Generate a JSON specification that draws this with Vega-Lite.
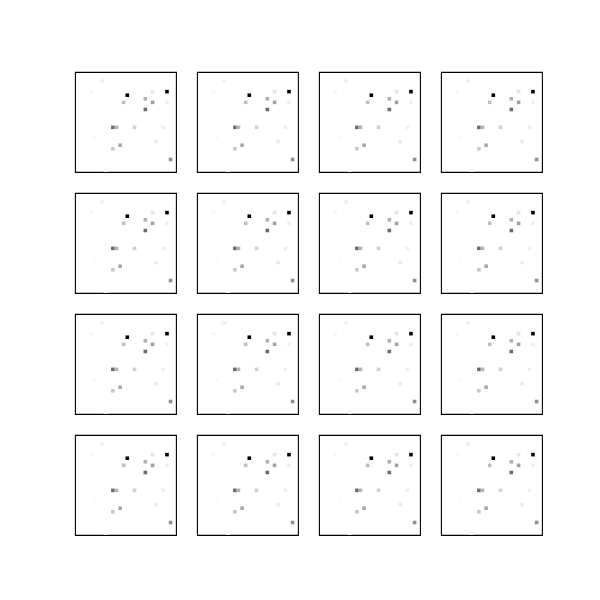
{
  "$schema": "https://vega.github.io/schema/vega-lite/v6.json",
  "background": "white",
  "padding": {"left": 74, "top": 71, "right": 0, "bottom": 0},
  "config": {"view": {"stroke": "#000000", "strokeWidth": 1.1}, "concat": {"spacing": 19}},
  "datasets": {
    "cells": [
      {"col": 7, "row": 2, "v": 0.06},
      {"col": 4, "row": 5, "v": 0.03},
      {"col": 14, "row": 6, "v": 1.0},
      {"col": 21, "row": 5, "v": 0.1},
      {"col": 25, "row": 5, "v": 1.0},
      {"col": 19, "row": 7, "v": 0.31},
      {"col": 13, "row": 8, "v": 0.25},
      {"col": 21, "row": 8, "v": 0.37},
      {"col": 25, "row": 8, "v": 0.06},
      {"col": 19, "row": 10, "v": 0.58},
      {"col": 10, "row": 15, "v": 0.58},
      {"col": 11, "row": 15, "v": 0.29},
      {"col": 16, "row": 15, "v": 0.18},
      {"col": 24, "row": 15, "v": 0.06},
      {"col": 5, "row": 18, "v": 0.02},
      {"col": 22, "row": 19, "v": 0.08},
      {"col": 12, "row": 20, "v": 0.34},
      {"col": 10, "row": 21, "v": 0.22},
      {"col": 26, "row": 24, "v": 0.44},
      {"col": 8, "row": 27, "v": 0.03}
    ]
  },
  "vconcat": [
    {"spacing": 19, "hconcat": [
      {"data": {"name": "cells"}, "width": 101, "height": 100, "mark": {"type": "rect", "strokeWidth": 0},
       "encoding": {
         "x": {"field": "col", "type": "ordinal", "scale": {"domain": [0,1,2,3,4,5,6,7,8,9,10,11,12,13,14,15,16,17,18,19,20,21,22,23,24,25,26,27], "paddingInner": 0, "paddingOuter": 0}, "axis": null},
         "y": {"field": "row", "type": "ordinal", "scale": {"domain": [0,1,2,3,4,5,6,7,8,9,10,11,12,13,14,15,16,17,18,19,20,21,22,23,24,25,26,27], "paddingInner": 0, "paddingOuter": 0}, "axis": null},
         "color": {"field": "v", "type": "quantitative", "scale": {"domain": [0, 1], "range": ["#ffffff", "#000000"], "interpolate": "rgb"}, "legend": null}
       }},
      {"data": {"name": "cells"}, "width": 101, "height": 100, "mark": {"type": "rect", "strokeWidth": 0},
       "encoding": {
         "x": {"field": "col", "type": "ordinal", "scale": {"domain": [0,1,2,3,4,5,6,7,8,9,10,11,12,13,14,15,16,17,18,19,20,21,22,23,24,25,26,27], "paddingInner": 0, "paddingOuter": 0}, "axis": null},
         "y": {"field": "row", "type": "ordinal", "scale": {"domain": [0,1,2,3,4,5,6,7,8,9,10,11,12,13,14,15,16,17,18,19,20,21,22,23,24,25,26,27], "paddingInner": 0, "paddingOuter": 0}, "axis": null},
         "color": {"field": "v", "type": "quantitative", "scale": {"domain": [0, 1], "range": ["#ffffff", "#000000"], "interpolate": "rgb"}, "legend": null}
       }},
      {"data": {"name": "cells"}, "width": 101, "height": 100, "mark": {"type": "rect", "strokeWidth": 0},
       "encoding": {
         "x": {"field": "col", "type": "ordinal", "scale": {"domain": [0,1,2,3,4,5,6,7,8,9,10,11,12,13,14,15,16,17,18,19,20,21,22,23,24,25,26,27], "paddingInner": 0, "paddingOuter": 0}, "axis": null},
         "y": {"field": "row", "type": "ordinal", "scale": {"domain": [0,1,2,3,4,5,6,7,8,9,10,11,12,13,14,15,16,17,18,19,20,21,22,23,24,25,26,27], "paddingInner": 0, "paddingOuter": 0}, "axis": null},
         "color": {"field": "v", "type": "quantitative", "scale": {"domain": [0, 1], "range": ["#ffffff", "#000000"], "interpolate": "rgb"}, "legend": null}
       }},
      {"data": {"name": "cells"}, "width": 101, "height": 100, "mark": {"type": "rect", "strokeWidth": 0},
       "encoding": {
         "x": {"field": "col", "type": "ordinal", "scale": {"domain": [0,1,2,3,4,5,6,7,8,9,10,11,12,13,14,15,16,17,18,19,20,21,22,23,24,25,26,27], "paddingInner": 0, "paddingOuter": 0}, "axis": null},
         "y": {"field": "row", "type": "ordinal", "scale": {"domain": [0,1,2,3,4,5,6,7,8,9,10,11,12,13,14,15,16,17,18,19,20,21,22,23,24,25,26,27], "paddingInner": 0, "paddingOuter": 0}, "axis": null},
         "color": {"field": "v", "type": "quantitative", "scale": {"domain": [0, 1], "range": ["#ffffff", "#000000"], "interpolate": "rgb"}, "legend": null}
       }}
    ]},
    {"spacing": 19, "hconcat": [
      {"data": {"name": "cells"}, "width": 101, "height": 100, "mark": {"type": "rect", "strokeWidth": 0},
       "encoding": {
         "x": {"field": "col", "type": "ordinal", "scale": {"domain": [0,1,2,3,4,5,6,7,8,9,10,11,12,13,14,15,16,17,18,19,20,21,22,23,24,25,26,27], "paddingInner": 0, "paddingOuter": 0}, "axis": null},
         "y": {"field": "row", "type": "ordinal", "scale": {"domain": [0,1,2,3,4,5,6,7,8,9,10,11,12,13,14,15,16,17,18,19,20,21,22,23,24,25,26,27], "paddingInner": 0, "paddingOuter": 0}, "axis": null},
         "color": {"field": "v", "type": "quantitative", "scale": {"domain": [0, 1], "range": ["#ffffff", "#000000"], "interpolate": "rgb"}, "legend": null}
       }},
      {"data": {"name": "cells"}, "width": 101, "height": 100, "mark": {"type": "rect", "strokeWidth": 0},
       "encoding": {
         "x": {"field": "col", "type": "ordinal", "scale": {"domain": [0,1,2,3,4,5,6,7,8,9,10,11,12,13,14,15,16,17,18,19,20,21,22,23,24,25,26,27], "paddingInner": 0, "paddingOuter": 0}, "axis": null},
         "y": {"field": "row", "type": "ordinal", "scale": {"domain": [0,1,2,3,4,5,6,7,8,9,10,11,12,13,14,15,16,17,18,19,20,21,22,23,24,25,26,27], "paddingInner": 0, "paddingOuter": 0}, "axis": null},
         "color": {"field": "v", "type": "quantitative", "scale": {"domain": [0, 1], "range": ["#ffffff", "#000000"], "interpolate": "rgb"}, "legend": null}
       }},
      {"data": {"name": "cells"}, "width": 101, "height": 100, "mark": {"type": "rect", "strokeWidth": 0},
       "encoding": {
         "x": {"field": "col", "type": "ordinal", "scale": {"domain": [0,1,2,3,4,5,6,7,8,9,10,11,12,13,14,15,16,17,18,19,20,21,22,23,24,25,26,27], "paddingInner": 0, "paddingOuter": 0}, "axis": null},
         "y": {"field": "row", "type": "ordinal", "scale": {"domain": [0,1,2,3,4,5,6,7,8,9,10,11,12,13,14,15,16,17,18,19,20,21,22,23,24,25,26,27], "paddingInner": 0, "paddingOuter": 0}, "axis": null},
         "color": {"field": "v", "type": "quantitative", "scale": {"domain": [0, 1], "range": ["#ffffff", "#000000"], "interpolate": "rgb"}, "legend": null}
       }},
      {"data": {"name": "cells"}, "width": 101, "height": 100, "mark": {"type": "rect", "strokeWidth": 0},
       "encoding": {
         "x": {"field": "col", "type": "ordinal", "scale": {"domain": [0,1,2,3,4,5,6,7,8,9,10,11,12,13,14,15,16,17,18,19,20,21,22,23,24,25,26,27], "paddingInner": 0, "paddingOuter": 0}, "axis": null},
         "y": {"field": "row", "type": "ordinal", "scale": {"domain": [0,1,2,3,4,5,6,7,8,9,10,11,12,13,14,15,16,17,18,19,20,21,22,23,24,25,26,27], "paddingInner": 0, "paddingOuter": 0}, "axis": null},
         "color": {"field": "v", "type": "quantitative", "scale": {"domain": [0, 1], "range": ["#ffffff", "#000000"], "interpolate": "rgb"}, "legend": null}
       }}
    ]},
    {"spacing": 19, "hconcat": [
      {"data": {"name": "cells"}, "width": 101, "height": 100, "mark": {"type": "rect", "strokeWidth": 0},
       "encoding": {
         "x": {"field": "col", "type": "ordinal", "scale": {"domain": [0,1,2,3,4,5,6,7,8,9,10,11,12,13,14,15,16,17,18,19,20,21,22,23,24,25,26,27], "paddingInner": 0, "paddingOuter": 0}, "axis": null},
         "y": {"field": "row", "type": "ordinal", "scale": {"domain": [0,1,2,3,4,5,6,7,8,9,10,11,12,13,14,15,16,17,18,19,20,21,22,23,24,25,26,27], "paddingInner": 0, "paddingOuter": 0}, "axis": null},
         "color": {"field": "v", "type": "quantitative", "scale": {"domain": [0, 1], "range": ["#ffffff", "#000000"], "interpolate": "rgb"}, "legend": null}
       }},
      {"data": {"name": "cells"}, "width": 101, "height": 100, "mark": {"type": "rect", "strokeWidth": 0},
       "encoding": {
         "x": {"field": "col", "type": "ordinal", "scale": {"domain": [0,1,2,3,4,5,6,7,8,9,10,11,12,13,14,15,16,17,18,19,20,21,22,23,24,25,26,27], "paddingInner": 0, "paddingOuter": 0}, "axis": null},
         "y": {"field": "row", "type": "ordinal", "scale": {"domain": [0,1,2,3,4,5,6,7,8,9,10,11,12,13,14,15,16,17,18,19,20,21,22,23,24,25,26,27], "paddingInner": 0, "paddingOuter": 0}, "axis": null},
         "color": {"field": "v", "type": "quantitative", "scale": {"domain": [0, 1], "range": ["#ffffff", "#000000"], "interpolate": "rgb"}, "legend": null}
       }},
      {"data": {"name": "cells"}, "width": 101, "height": 100, "mark": {"type": "rect", "strokeWidth": 0},
       "encoding": {
         "x": {"field": "col", "type": "ordinal", "scale": {"domain": [0,1,2,3,4,5,6,7,8,9,10,11,12,13,14,15,16,17,18,19,20,21,22,23,24,25,26,27], "paddingInner": 0, "paddingOuter": 0}, "axis": null},
         "y": {"field": "row", "type": "ordinal", "scale": {"domain": [0,1,2,3,4,5,6,7,8,9,10,11,12,13,14,15,16,17,18,19,20,21,22,23,24,25,26,27], "paddingInner": 0, "paddingOuter": 0}, "axis": null},
         "color": {"field": "v", "type": "quantitative", "scale": {"domain": [0, 1], "range": ["#ffffff", "#000000"], "interpolate": "rgb"}, "legend": null}
       }},
      {"data": {"name": "cells"}, "width": 101, "height": 100, "mark": {"type": "rect", "strokeWidth": 0},
       "encoding": {
         "x": {"field": "col", "type": "ordinal", "scale": {"domain": [0,1,2,3,4,5,6,7,8,9,10,11,12,13,14,15,16,17,18,19,20,21,22,23,24,25,26,27], "paddingInner": 0, "paddingOuter": 0}, "axis": null},
         "y": {"field": "row", "type": "ordinal", "scale": {"domain": [0,1,2,3,4,5,6,7,8,9,10,11,12,13,14,15,16,17,18,19,20,21,22,23,24,25,26,27], "paddingInner": 0, "paddingOuter": 0}, "axis": null},
         "color": {"field": "v", "type": "quantitative", "scale": {"domain": [0, 1], "range": ["#ffffff", "#000000"], "interpolate": "rgb"}, "legend": null}
       }}
    ]},
    {"spacing": 19, "hconcat": [
      {"data": {"name": "cells"}, "width": 101, "height": 100, "mark": {"type": "rect", "strokeWidth": 0},
       "encoding": {
         "x": {"field": "col", "type": "ordinal", "scale": {"domain": [0,1,2,3,4,5,6,7,8,9,10,11,12,13,14,15,16,17,18,19,20,21,22,23,24,25,26,27], "paddingInner": 0, "paddingOuter": 0}, "axis": null},
         "y": {"field": "row", "type": "ordinal", "scale": {"domain": [0,1,2,3,4,5,6,7,8,9,10,11,12,13,14,15,16,17,18,19,20,21,22,23,24,25,26,27], "paddingInner": 0, "paddingOuter": 0}, "axis": null},
         "color": {"field": "v", "type": "quantitative", "scale": {"domain": [0, 1], "range": ["#ffffff", "#000000"], "interpolate": "rgb"}, "legend": null}
       }},
      {"data": {"name": "cells"}, "width": 101, "height": 100, "mark": {"type": "rect", "strokeWidth": 0},
       "encoding": {
         "x": {"field": "col", "type": "ordinal", "scale": {"domain": [0,1,2,3,4,5,6,7,8,9,10,11,12,13,14,15,16,17,18,19,20,21,22,23,24,25,26,27], "paddingInner": 0, "paddingOuter": 0}, "axis": null},
         "y": {"field": "row", "type": "ordinal", "scale": {"domain": [0,1,2,3,4,5,6,7,8,9,10,11,12,13,14,15,16,17,18,19,20,21,22,23,24,25,26,27], "paddingInner": 0, "paddingOuter": 0}, "axis": null},
         "color": {"field": "v", "type": "quantitative", "scale": {"domain": [0, 1], "range": ["#ffffff", "#000000"], "interpolate": "rgb"}, "legend": null}
       }},
      {"data": {"name": "cells"}, "width": 101, "height": 100, "mark": {"type": "rect", "strokeWidth": 0},
       "encoding": {
         "x": {"field": "col", "type": "ordinal", "scale": {"domain": [0,1,2,3,4,5,6,7,8,9,10,11,12,13,14,15,16,17,18,19,20,21,22,23,24,25,26,27], "paddingInner": 0, "paddingOuter": 0}, "axis": null},
         "y": {"field": "row", "type": "ordinal", "scale": {"domain": [0,1,2,3,4,5,6,7,8,9,10,11,12,13,14,15,16,17,18,19,20,21,22,23,24,25,26,27], "paddingInner": 0, "paddingOuter": 0}, "axis": null},
         "color": {"field": "v", "type": "quantitative", "scale": {"domain": [0, 1], "range": ["#ffffff", "#000000"], "interpolate": "rgb"}, "legend": null}
       }},
      {"data": {"name": "cells"}, "width": 101, "height": 100, "mark": {"type": "rect", "strokeWidth": 0},
       "encoding": {
         "x": {"field": "col", "type": "ordinal", "scale": {"domain": [0,1,2,3,4,5,6,7,8,9,10,11,12,13,14,15,16,17,18,19,20,21,22,23,24,25,26,27], "paddingInner": 0, "paddingOuter": 0}, "axis": null},
         "y": {"field": "row", "type": "ordinal", "scale": {"domain": [0,1,2,3,4,5,6,7,8,9,10,11,12,13,14,15,16,17,18,19,20,21,22,23,24,25,26,27], "paddingInner": 0, "paddingOuter": 0}, "axis": null},
         "color": {"field": "v", "type": "quantitative", "scale": {"domain": [0, 1], "range": ["#ffffff", "#000000"], "interpolate": "rgb"}, "legend": null}
       }}
    ]}
  ]
}
